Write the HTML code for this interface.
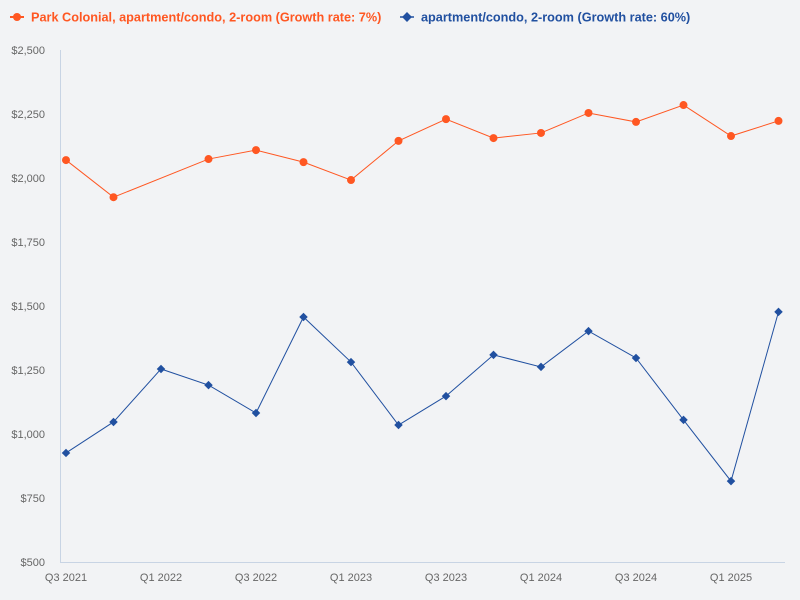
<!DOCTYPE html>
<html><head><meta charset="utf-8"><style>
html,body{margin:0;padding:0;background:#f2f3f5;}
svg{display:block;font-family:"Liberation Sans",sans-serif;}
</style></head><body>
<svg id="chart" width="800" height="600">
<rect width="800" height="600" fill="#f2f3f5"/>
<g>
<g>
<line x1="10" y1="17" x2="24" y2="17" stroke="#ff5722" stroke-width="2"/>
<circle cx="17" cy="17" r="4" fill="#ff5722"/>
<text x="31" y="21.5" font-size="12.7" font-weight="bold" fill="#ff5722">Park Colonial, apartment/condo, 2-room (Growth rate: 7%)</text>
</g>
<g>
<line x1="400" y1="17" x2="414" y2="17" stroke="#2150a0" stroke-width="1.5"/>
<rect x="403.5" y="13.5" width="7" height="7" fill="#2150a0" transform="rotate(45 407 17)"/>
<text x="421" y="21.5" font-size="12.7" font-weight="bold" fill="#2150a0">apartment/condo, 2-room (Growth rate: 60%)</text>
</g>
</g>
<g id="axes"></g>
<g id="series"></g>
</svg>
<script>
const categories=["Q3 2021","Q4 2021","Q1 2022","Q2 2022","Q3 2022","Q4 2022","Q1 2023","Q2 2023","Q3 2023","Q4 2023","Q1 2024","Q2 2024","Q3 2024","Q4 2024","Q1 2025","Q2 2025"];
const parkColonial=[2070,1925,null,2074,2109,2062,1992,2145,2230,2156,2176,2254,2219,2285,2164,2223];
const apartmentCondo=[926,1047,1254,1191,1082,1457,1281,1035,1148,1309,1262,1402,1297,1055,816,1477];
const yTicks=[500,750,1000,1250,1500,1750,2000,2250,2500];
const xTickLabels=["Q3 2021","Q1 2022","Q3 2022","Q1 2023","Q3 2023","Q1 2024","Q3 2024","Q1 2025"];
const NS="http://www.w3.org/2000/svg";
const x=i=>66+i*47.5;
const y=v=>562-(v-500)*0.256;
const axes=document.getElementById('axes'),series=document.getElementById('series');
function mk(tag,attrs,parent){const e=document.createElementNS(NS,tag);for(const k in attrs)e.setAttribute(k,attrs[k]);parent.appendChild(e);return e;}
const yl=mk('line',{x1:60.5,y1:50,x2:60.5,y2:562.5,stroke:'#c8d4e4'},axes);


const xl=mk('line',{x1:60,y1:562.5,x2:785,y2:562.5,stroke:'#c8d4e4'},axes);


yTicks.forEach(v=>{const t=mk('text',{x:45,y:y(v)+4,'text-anchor':'end','font-size':'11',fill:'#666'},axes);t.textContent='$'+v.toLocaleString('en-US');

});
xTickLabels.forEach(l=>{const i=categories.indexOf(l);const t=mk('text',{x:x(i),y:581,'text-anchor':'middle','font-size':'11',fill:'#666'},axes);t.textContent=l;

});
function path(vals){let d='';vals.forEach((v,i)=>{if(v==null)return;d+=(d?'L':'M')+x(i)+' '+y(v);});return d;}
const p1=mk('path',{d:path(parkColonial),fill:'none',stroke:'#ff5722','stroke-width':1},series);


const p2=mk('path',{d:path(apartmentCondo),fill:'none',stroke:'#2150a0','stroke-width':1},series);


parkColonial.forEach((v,i)=>{if(v==null)return;const c=mk('circle',{cx:x(i),cy:y(v),r:4,fill:'#ff5722'},series);

});
apartmentCondo.forEach((v,i)=>{const r=mk('rect',{x:x(i)-3,y:y(v)-3,width:6,height:6,fill:'#2150a0',transform:`rotate(45 ${x(i)} ${y(v)})`},series);

});
</script>
</body></html>
